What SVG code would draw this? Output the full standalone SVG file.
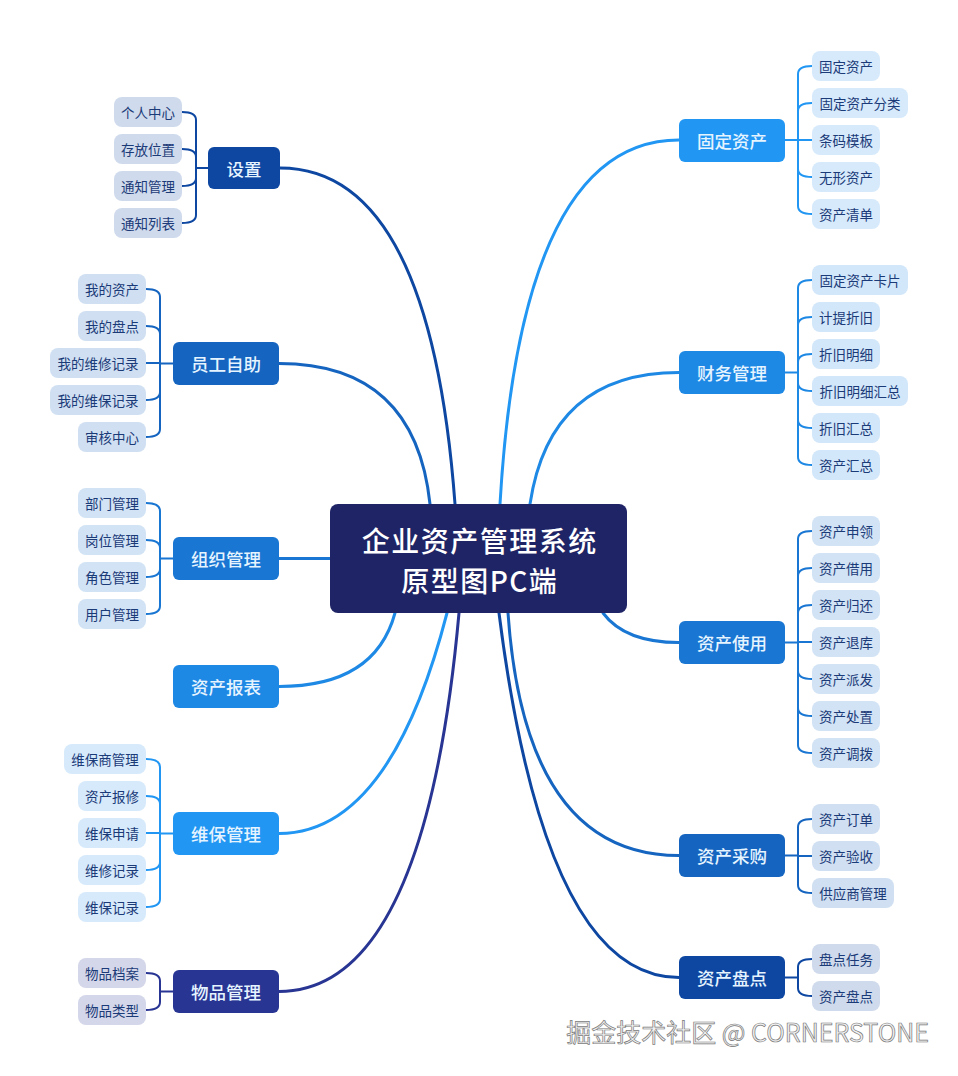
<svg xmlns="http://www.w3.org/2000/svg" width="958" height="1076" viewBox="0 0 958 1076">
<style>
text{font-family:"Noto Sans CJK SC","Noto Sans",sans-serif;}
.main text{font-size:17.5px;fill:#e6f4ff;text-anchor:middle;dominant-baseline:central;font-weight:500;}
.leaf text{font-size:13.5px;fill:#1b3a78;text-anchor:middle;dominant-baseline:central;}
.conn path{fill:none;stroke-width:3;stroke-linecap:round;}
.br path{fill:none;stroke-width:2;}
.c1{stroke:#0d47a1}.c2{stroke:#1565c0}.c3{stroke:#1976d2}.c4{stroke:#1e88e5}.c5{stroke:#2196f3}.c6{stroke:#283593}
.l1{fill:#cfdaec}.l2{fill:#d0e0f2}.l3{fill:#d1e3f5}.l4{fill:#d2e7fa}.l5{fill:#d6eafc}.l6{fill:#d4d7ea}
.ctitle{font-size:28px;font-weight:500;fill:#ffffff;text-anchor:middle;dominant-baseline:central;letter-spacing:1.5px;}
</style>
<rect width="958" height="1076" fill="#ffffff"/>
<g id="connectors">
<g class="conn">
<path class="c1" d="M455,504 Q430,168 280,168"/>
<path class="c2" d="M430,504 Q415,363.5 279,363.5"/>
<path class="c3" d="M279,558.5 L330,558.5"/>
<path class="c4" d="M395,613 Q375,686.5 279,686.5"/>
<path class="c5" d="M447,613 Q390,833.5 279,833.5"/>
<path class="c6" d="M459,613 Q425,991.5 279,991.5"/>
<path class="c5" d="M500,504 Q521,140 679,140"/>
<path class="c4" d="M530,504 Q550,372.5 679,372.5"/>
<path class="c3" d="M603,613 Q625,642.5 679,642.5"/>
<path class="c2" d="M508,613 Q525,855.5 679,855.5"/>
<path class="c1" d="M499,613 Q545,977.5 679,977.5"/>
</g>
<g class="br">
<path class="c1" d="M208,168 L196,168 M196,168 L196,120 Q196,112 182,112 M196,168 L196,157 Q196,149 182,149 M196,168 L196,178 Q196,186 182,186 M196,168 L196,215 Q196,223 182,223"/>
<path class="c2" d="M173,363.5 L160,363.5 M160,363.5 L160,297 Q160,289 146,289 M160,363.5 L160,334 Q160,326 146,326 M160,363 L146,363 M160,363.5 L160,392 Q160,400 146,400 M160,363.5 L160,429 Q160,437 146,437"/>
<path class="c3" d="M173,558.5 L160,558.5 M160,558.5 L160,511 Q160,503 146,503 M160,558.5 L160,548 Q160,540 146,540 M160,558.5 L160,569 Q160,577 146,577 M160,558.5 L160,606 Q160,614 146,614"/>
<path class="c5" d="M173,833.5 L160,833.5 M160,833.5 L160,767 Q160,759 146,759 M160,833.5 L160,804 Q160,796 146,796 M160,833 L146,833 M160,833.5 L160,862 Q160,870 146,870 M160,833.5 L160,899 Q160,907 146,907"/>
<path class="c6" d="M173,991.5 L160,991.5 M160,991.5 L160,981 Q160,973 146,973 M160,991.5 L160,1002 Q160,1010 146,1010"/>
<path class="c5" d="M785,140 L798,140 M798,140 L798,74 Q798,66 812,66 M798,140 L798,111 Q798,103 812,103 M798,140 L812,140 M798,140 L798,169 Q798,177 812,177 M798,140 L798,206 Q798,214 812,214"/>
<path class="c4" d="M785,372.5 L798,372.5 M798,372.5 L798,288 Q798,280 812,280 M798,372.5 L798,325 Q798,317 812,317 M798,372.5 L798,362 Q798,354 812,354 M798,372.5 L798,383 Q798,391 812,391 M798,372.5 L798,420 Q798,428 812,428 M798,372.5 L798,457 Q798,465 812,465"/>
<path class="c3" d="M785,642.5 L798,642.5 M798,642.5 L798,539 Q798,531 812,531 M798,642.5 L798,576 Q798,568 812,568 M798,642.5 L798,613 Q798,605 812,605 M798,642 L812,642 M798,642.5 L798,671 Q798,679 812,679 M798,642.5 L798,708 Q798,716 812,716 M798,642.5 L798,745 Q798,753 812,753"/>
<path class="c2" d="M785,855.5 L798,855.5 M798,855.5 L798,827 Q798,819 812,819 M798,856 L812,856 M798,855.5 L798,885 Q798,893 812,893"/>
<path class="c1" d="M785,977.5 L798,977.5 M798,977.5 L798,967 Q798,959 812,959 M798,977.5 L798,988 Q798,996 812,996"/>
</g>
</g>

<g id="center">
<rect x="330" y="504" width="297" height="109" rx="8" fill="#1f2466"/>
<text class="ctitle" x="479.75" y="539.5">企业资产管理系统</text>
<text class="ctitle" x="479.75" y="580">原型图PC端</text>
</g>

<g id="n-shezhi" class="main"><rect x="208" y="147" width="72" height="42" rx="6" fill="#0d47a1"/><text x="244" y="168">设置</text></g>
<g id="n-yuangong" class="main"><rect x="173" y="342" width="106" height="43" rx="6" fill="#1565c0"/><text x="226" y="363.5">员工自助</text></g>
<g id="n-zuzhi" class="main"><rect x="173" y="537" width="106" height="43" rx="6" fill="#1976d2"/><text x="226" y="558.5">组织管理</text></g>
<g id="n-baobiao" class="main"><rect x="173" y="665" width="106" height="43" rx="6" fill="#1e88e5"/><text x="226" y="686.5">资产报表</text></g>
<g id="n-weibao" class="main"><rect x="173" y="812" width="106" height="43" rx="6" fill="#2196f3"/><text x="226" y="833.5">维保管理</text></g>
<g id="n-wupin" class="main"><rect x="173" y="970" width="106" height="43" rx="6" fill="#283593"/><text x="226" y="991.5">物品管理</text></g>
<g id="n-guding" class="main"><rect x="679" y="119" width="106" height="43" rx="6" fill="#2196f3"/><text x="732" y="140.5">固定资产</text></g>
<g id="n-caiwu" class="main"><rect x="679" y="351" width="106" height="43" rx="6" fill="#1e88e5"/><text x="732" y="372.5">财务管理</text></g>
<g id="n-shiyong" class="main"><rect x="679" y="621" width="106" height="43" rx="6" fill="#1976d2"/><text x="732" y="642.5">资产使用</text></g>
<g id="n-caigou" class="main"><rect x="679" y="834" width="106" height="43" rx="6" fill="#1565c0"/><text x="732" y="855.5">资产采购</text></g>
<g id="n-pandian" class="main"><rect x="679" y="956" width="106" height="43" rx="6" fill="#0d47a1"/><text x="732" y="977.5">资产盘点</text></g>

<g id="l-gerenzhongxin" class="leaf"><rect class="l1" x="114" y="97" width="68" height="30" rx="8"/><text x="148" y="112">个人中心</text></g>
<g id="l-cunfangweizhi" class="leaf"><rect class="l1" x="114" y="134" width="68" height="30" rx="8"/><text x="148" y="149">存放位置</text></g>
<g id="l-tongzhiguanli" class="leaf"><rect class="l1" x="114" y="171" width="68" height="30" rx="8"/><text x="148" y="186">通知管理</text></g>
<g id="l-tongzhiliebiao" class="leaf"><rect class="l1" x="114" y="208" width="68" height="30" rx="8"/><text x="148" y="223">通知列表</text></g>
<g id="l-wodezichan" class="leaf"><rect class="l2" x="78" y="274" width="68" height="30" rx="8"/><text x="112" y="289">我的资产</text></g>
<g id="l-wodepandian" class="leaf"><rect class="l2" x="78" y="311" width="68" height="30" rx="8"/><text x="112" y="326">我的盘点</text></g>
<g id="l-wodeweixiu" class="leaf"><rect class="l2" x="50" y="348" width="96" height="30" rx="8"/><text x="98" y="363">我的维修记录</text></g>
<g id="l-wodeweibao" class="leaf"><rect class="l2" x="50" y="385" width="96" height="30" rx="8"/><text x="98" y="400">我的维保记录</text></g>
<g id="l-shenhe" class="leaf"><rect class="l2" x="78" y="422" width="68" height="30" rx="8"/><text x="112" y="437">审核中心</text></g>
<g id="l-bumen" class="leaf"><rect class="l3" x="78" y="488" width="68" height="30" rx="8"/><text x="112" y="503">部门管理</text></g>
<g id="l-gangwei" class="leaf"><rect class="l3" x="78" y="525" width="68" height="30" rx="8"/><text x="112" y="540">岗位管理</text></g>
<g id="l-juese" class="leaf"><rect class="l3" x="78" y="562" width="68" height="30" rx="8"/><text x="112" y="577">角色管理</text></g>
<g id="l-yonghu" class="leaf"><rect class="l3" x="78" y="599" width="68" height="30" rx="8"/><text x="112" y="614">用户管理</text></g>
<g id="l-weibaoshang" class="leaf"><rect class="l5" x="64" y="744" width="82" height="30" rx="8"/><text x="105" y="759">维保商管理</text></g>
<g id="l-baoxiu" class="leaf"><rect class="l5" x="78" y="781" width="68" height="30" rx="8"/><text x="112" y="796">资产报修</text></g>
<g id="l-weibaoshenqing" class="leaf"><rect class="l5" x="78" y="818" width="68" height="30" rx="8"/><text x="112" y="833">维保申请</text></g>
<g id="l-weixiujilu" class="leaf"><rect class="l5" x="78" y="855" width="68" height="30" rx="8"/><text x="112" y="870">维修记录</text></g>
<g id="l-weibaojilu" class="leaf"><rect class="l5" x="78" y="892" width="68" height="30" rx="8"/><text x="112" y="907">维保记录</text></g>
<g id="l-wupindangan" class="leaf"><rect class="l6" x="78" y="958" width="68" height="30" rx="8"/><text x="112" y="973">物品档案</text></g>
<g id="l-wupinleixing" class="leaf"><rect class="l6" x="78" y="995" width="68" height="30" rx="8"/><text x="112" y="1010">物品类型</text></g>
<g id="l-gudingzichan" class="leaf"><rect class="l5" x="812" y="51" width="68" height="30" rx="8"/><text x="846" y="66">固定资产</text></g>
<g id="l-gudingfenlei" class="leaf"><rect class="l5" x="812" y="88" width="96" height="30" rx="8"/><text x="860" y="103">固定资产分类</text></g>
<g id="l-tiaoma" class="leaf"><rect class="l5" x="812" y="125" width="68" height="30" rx="8"/><text x="846" y="140">条码模板</text></g>
<g id="l-wuxing" class="leaf"><rect class="l5" x="812" y="162" width="68" height="30" rx="8"/><text x="846" y="177">无形资产</text></g>
<g id="l-qingdan" class="leaf"><rect class="l5" x="812" y="199" width="68" height="30" rx="8"/><text x="846" y="214">资产清单</text></g>
<g id="l-kapian" class="leaf"><rect class="l4" x="812" y="265" width="96" height="30" rx="8"/><text x="860" y="280">固定资产卡片</text></g>
<g id="l-jiti" class="leaf"><rect class="l4" x="812" y="302" width="68" height="30" rx="8"/><text x="846" y="317">计提折旧</text></g>
<g id="l-mingxi" class="leaf"><rect class="l4" x="812" y="339" width="68" height="30" rx="8"/><text x="846" y="354">折旧明细</text></g>
<g id="l-mingxihuizong" class="leaf"><rect class="l4" x="812" y="376" width="96" height="30" rx="8"/><text x="860" y="391">折旧明细汇总</text></g>
<g id="l-zhejiuhuizong" class="leaf"><rect class="l4" x="812" y="413" width="68" height="30" rx="8"/><text x="846" y="428">折旧汇总</text></g>
<g id="l-zichanhuizong" class="leaf"><rect class="l4" x="812" y="450" width="68" height="30" rx="8"/><text x="846" y="465">资产汇总</text></g>
<g id="l-shenling" class="leaf"><rect class="l3" x="812" y="516" width="68" height="30" rx="8"/><text x="846" y="531">资产申领</text></g>
<g id="l-jieyong" class="leaf"><rect class="l3" x="812" y="553" width="68" height="30" rx="8"/><text x="846" y="568">资产借用</text></g>
<g id="l-guihuan" class="leaf"><rect class="l3" x="812" y="590" width="68" height="30" rx="8"/><text x="846" y="605">资产归还</text></g>
<g id="l-tuiku" class="leaf"><rect class="l3" x="812" y="627" width="68" height="30" rx="8"/><text x="846" y="642">资产退库</text></g>
<g id="l-paifa" class="leaf"><rect class="l3" x="812" y="664" width="68" height="30" rx="8"/><text x="846" y="679">资产派发</text></g>
<g id="l-chuzhi" class="leaf"><rect class="l3" x="812" y="701" width="68" height="30" rx="8"/><text x="846" y="716">资产处置</text></g>
<g id="l-diaobo" class="leaf"><rect class="l3" x="812" y="738" width="68" height="30" rx="8"/><text x="846" y="753">资产调拨</text></g>
<g id="l-dingdan" class="leaf"><rect class="l2" x="812" y="804" width="68" height="30" rx="8"/><text x="846" y="819">资产订单</text></g>
<g id="l-yanshou" class="leaf"><rect class="l2" x="812" y="841" width="68" height="30" rx="8"/><text x="846" y="856">资产验收</text></g>
<g id="l-gongyingshang" class="leaf"><rect class="l2" x="812" y="878" width="82" height="30" rx="8"/><text x="853" y="893">供应商管理</text></g>
<g id="l-pandianrenwu" class="leaf"><rect class="l1" x="812" y="944" width="68" height="30" rx="8"/><text x="846" y="959">盘点任务</text></g>
<g id="l-zichanpandian" class="leaf"><rect class="l1" x="812" y="981" width="68" height="30" rx="8"/><text x="846" y="996">资产盘点</text></g>

<g id="watermark">
<text x="929" y="1042" font-size="25" text-anchor="end" fill="#f2f2f2" stroke="#7a7a7a" stroke-width="0.7">掘金技术社区 @ CORNERSTONE</text>
</g>
</svg>
